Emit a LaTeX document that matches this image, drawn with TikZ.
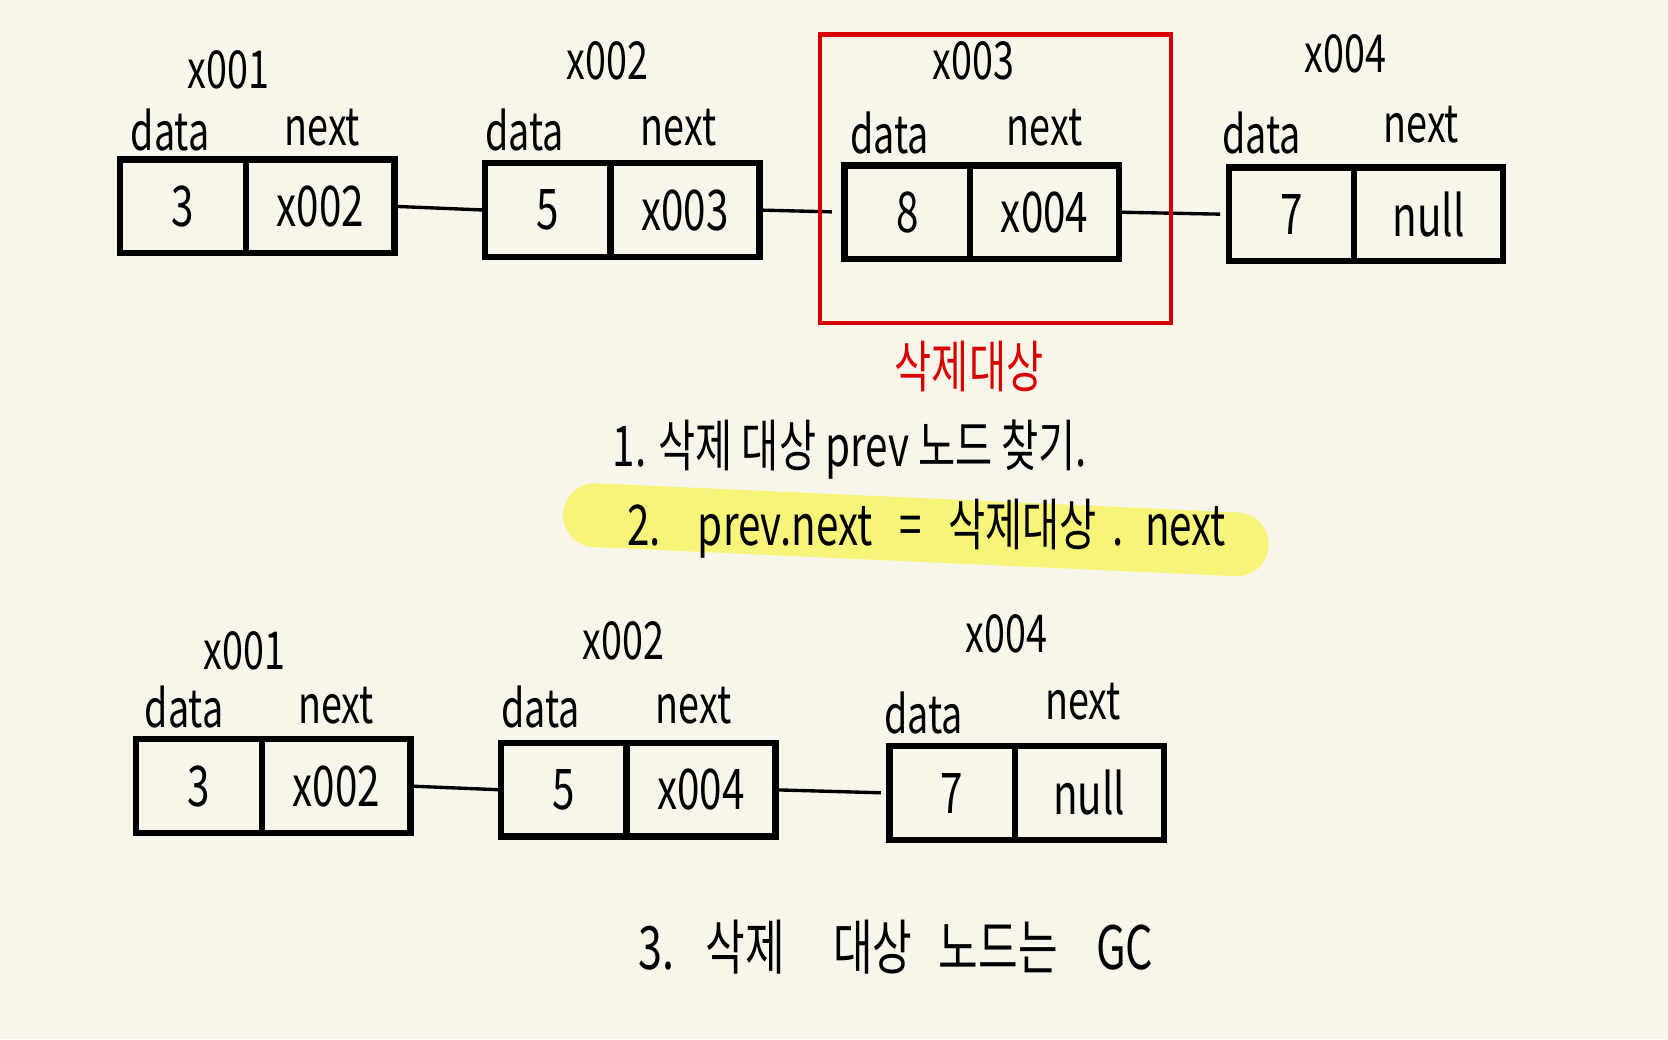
\documentclass[tikz,border=0pt]{standalone}
\usepackage{fontspec}
\setmainfont[FakeStretch=0.72]{Noto Sans CJK KR}
\usetikzlibrary{positioning}
\definecolor{paper}{RGB}{248,246,234}
\definecolor{marker}{RGB}{246,245,122}
\definecolor{penred}{RGB}{214,0,0}
\tikzset{
  cell/.style={draw,line width=1.7pt,minimum height=0.88cm,outer sep=0pt,inner sep=0pt,font=\fontsize{15}{17}\selectfont},
  datacell/.style={cell,minimum width=1.18cm},
  nextcell/.style={cell,minimum width=1.40cm},
  lbl/.style={font=\fontsize{14}{16}\selectfont},
  link/.style={line width=0.9pt},
  steptext/.style={font=\fontsize{15}{17}\selectfont}
}

\begin{document}
\begin{tikzpicture}
        % 배경
        \useasboundingbox (0,0) rectangle (15.68,9.77);
        \fill[paper] (0,0) rectangle (15.68,9.77);

        % 삭제 전 리스트
        \node[datacell] (d1) at (1.72,7.83) {3};
        \node[nextcell,right=0pt of d1] (n1) {x002};
        \node[datacell] (d2) at (5.15,7.795) {5};
        \node[nextcell,right=0pt of d2] (n2) {x003};
        \node[datacell] (d3) at (8.53,7.775) {8};
        \node[nextcell,right=0pt of d3] (n3) {x004};
        \node[datacell] (d4) at (12.14,7.755) {7};
        \node[nextcell,right=0pt of d4] (n4) {null};

        % 주소와 필드 이름
        \node[lbl] (a1) at (2.15,9.11) {x001};
        \node[lbl] (a2) at (5.71,9.20) {x002};
        \node[lbl] (a3) at (9.15,9.20) {x003};
        \node[lbl] (a4) at (12.65,9.26) {x004};
        \node[lbl] (f1) at (1.60,8.55) {data};
        \node[lbl] (g1) at (3.03,8.57) {next};
        \node[lbl] (f2) at (4.93,8.55) {data};
        \node[lbl] (g2) at (6.38,8.57) {next};
        \node[lbl] (f3) at (8.36,8.52) {data};
        \node[lbl] (g3) at (9.82,8.57) {next};
        \node[lbl] (f4) at (11.86,8.52) {data};
        \node[lbl] (g4) at (13.36,8.60) {next};

        % 연결선
        \draw[link] (n1.east) -- (d2.west);
        \draw[link,shorten >=1.2mm] (n2.east) -- (d3.west);
        \draw[link,shorten >=0.8mm] (n3.east) -- (d4.west);

        % 삭제 대상 표시
        \node[draw=penred,line width=1.1pt,minimum width=3.30cm,minimum height=2.71cm] (target) at (9.355,8.09) {};
        \node[lbl,text=penred,font=\fontsize{15}{17}\selectfont] (targetlbl) at (9.11,6.32) {삭제대상};

        % 순서 설명
        \node[steptext] (s1) at (7.99,5.54) {1. 삭제 대상 prev 노드 찾기.};
        \node[fill=marker,rotate=-2.6,rounded corners=0.3cm,minimum width=6.64cm,minimum height=0.60cm] (hl) at (8.61,4.79) {};
        \node[steptext] (s2) at (8.71,4.80) {2.\hspace{0.35cm}prev.next\hspace{0.25cm}=\hspace{0.25cm}삭제대상\hspace{0.15cm}.\hspace{0.2cm}next};

        % 삭제 후 리스트
        \node[datacell] (bd1) at (1.87,2.38) {3};
        \node[nextcell,right=0pt of bd1] (bn1) {x002};
        \node[datacell] (bd2) at (5.30,2.345) {5};
        \node[nextcell,right=0pt of bd2] (bn2) {x004};
        \node[datacell] (bd4) at (8.95,2.315) {7};
        \node[nextcell,right=0pt of bd4] (bn4) {null};

        \node[lbl] (ba1) at (2.30,3.65) {x001};
        \node[lbl] (ba2) at (5.86,3.75) {x002};
        \node[lbl] (ba4) at (9.46,3.81) {x004};
        \node[lbl] (bf1) at (1.73,3.12) {data};
        \node[lbl] (bg1) at (3.16,3.14) {next};
        \node[lbl] (bf2) at (5.08,3.12) {data};
        \node[lbl] (bg2) at (6.52,3.14) {next};
        \node[lbl] (bf4) at (8.68,3.07) {data};
        \node[lbl] (bg4) at (10.18,3.17) {next};

        \draw[link] (bn1.east) -- (bd2.west);
        \draw[link,shorten >=0.8mm] (bn2.east) -- (bd4.west);

        \node[steptext,font=\fontsize{16}{18}\selectfont] (s3) at (8.42,0.87) {3.\hspace{0.3cm}삭제\hspace{0.45cm}대상\hspace{0.25cm}노드는\hspace{0.36cm}GC};
\end{tikzpicture}
\end{document}
